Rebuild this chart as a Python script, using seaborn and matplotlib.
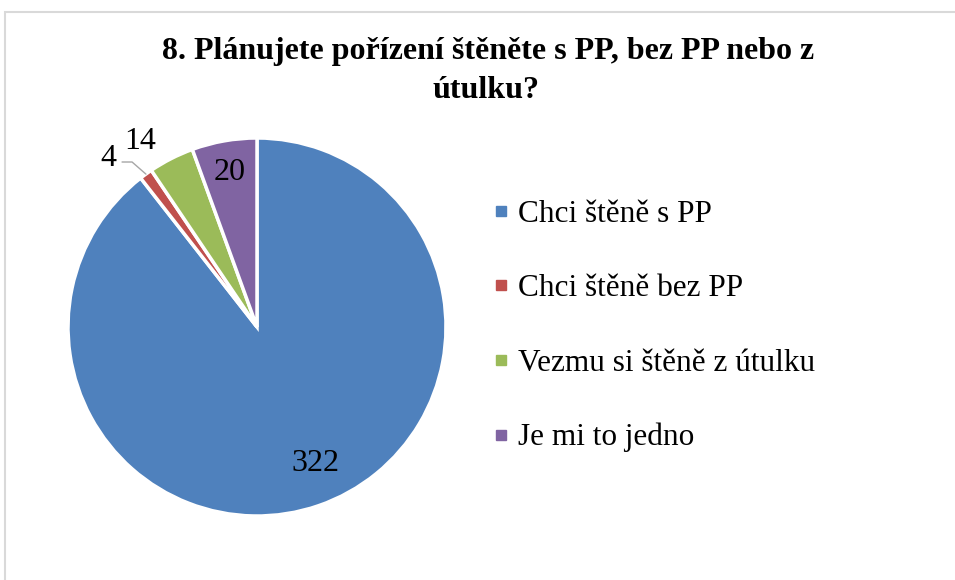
import matplotlib
matplotlib.use("Agg")
import matplotlib.pyplot as plt
import seaborn as sns
import numpy as np
from matplotlib.lines import Line2D
from matplotlib.patches import Rectangle

categories = ["Chci štěně s PP", "Chci štěně bez PP", "Vezmu si štěně z útulku", "Je mi to jedno"]
values = [322, 4, 14, 20]
colors = ["#4F81BD", "#C0504D", "#9BBB59", "#8064A2"]
title_lines = ["8. Plánujete pořízení štěněte s PP, bez PP nebo z", "útulku?"]

sns.set_theme(style="white")
plt.rcParams["font.family"] = ["Liberation Serif", "DejaVu Serif"]
plt.rcParams["text.color"] = "black"

fig = plt.figure(figsize=(9.55, 5.8), dpi=100)
fig.patch.set_facecolor("white")

# outer light border
fig.add_artist(Rectangle((5 / 955, -0.1), 1.2, 1 - 12 / 580 + 0.1, transform=fig.transFigure,
                         fill=False, edgecolor="#D9D9D9", linewidth=1.5))

fig.text(488 / 955, 1 - 51 / 580, title_lines[0], ha="center", va="center",
         fontsize=23, fontweight="bold", color="black")
fig.text(486 / 955, 1 - 91 / 580, title_lines[1], ha="center", va="center",
         fontsize=23, fontweight="bold", color="black")

ax = fig.add_axes([68 / 955, (580 - 327 - 189) / 580, 378 / 955, 378 / 580])
wedges, _ = ax.pie(values, colors=colors, startangle=90, counterclock=False,
                   wedgeprops=dict(edgecolor="white", linewidth=2.5))
ax.set_xlim(-1, 1)
ax.set_ylim(-1, 1)
ax.set_aspect("auto")

for w, v in zip(wedges, values):
    mid = (w.theta1 + w.theta2) / 2
    ang = np.deg2rad(mid)
    if v == 4:
        x, y = -0.788, 0.89
        ax.text(x, y, str(v), ha="center", va="center", fontsize=23, color="black", clip_on=False)
        ex, ey = 1.0 * np.cos(ang), 1.0 * np.sin(ang)
        ax.plot([-0.714, -0.661, ex], [0.873, 0.873, ey], color="#A6A6A6",
                linewidth=1, clip_on=False)
    elif v == 14:
        ax.text(-0.62, 0.98, str(v), ha="center", va="center", fontsize=23, color="black", clip_on=False)
    elif v == 322:
        a = np.deg2rad(mid + 5)
        ax.text(0.76 * np.cos(a), 0.76 * np.sin(a) - 0.03, str(v), ha="center", va="center",
                fontsize=23, color="black", clip_on=False)
    else:
        ax.text(0.83 * np.cos(ang), 0.83 * np.sin(ang), str(v), ha="center", va="center",
                fontsize=23, color="black", clip_on=False)

handles = [Line2D([0], [0], marker="s", linestyle="none", markersize=7,
                  markerfacecolor=c, markeredgecolor=c) for c in colors]
leg = fig.legend(handles, categories, loc="upper left",
                 bbox_to_anchor=(493 / 955, 1 - 200 / 580), frameon=False,
                 fontsize=22.5, handlelength=0.5, handletextpad=0.3,
                 labelspacing=1.45, borderaxespad=0, borderpad=0)
for t in leg.get_texts():
    t.set_color("black")

fig.savefig("out.png", dpi=100, facecolor="white")
